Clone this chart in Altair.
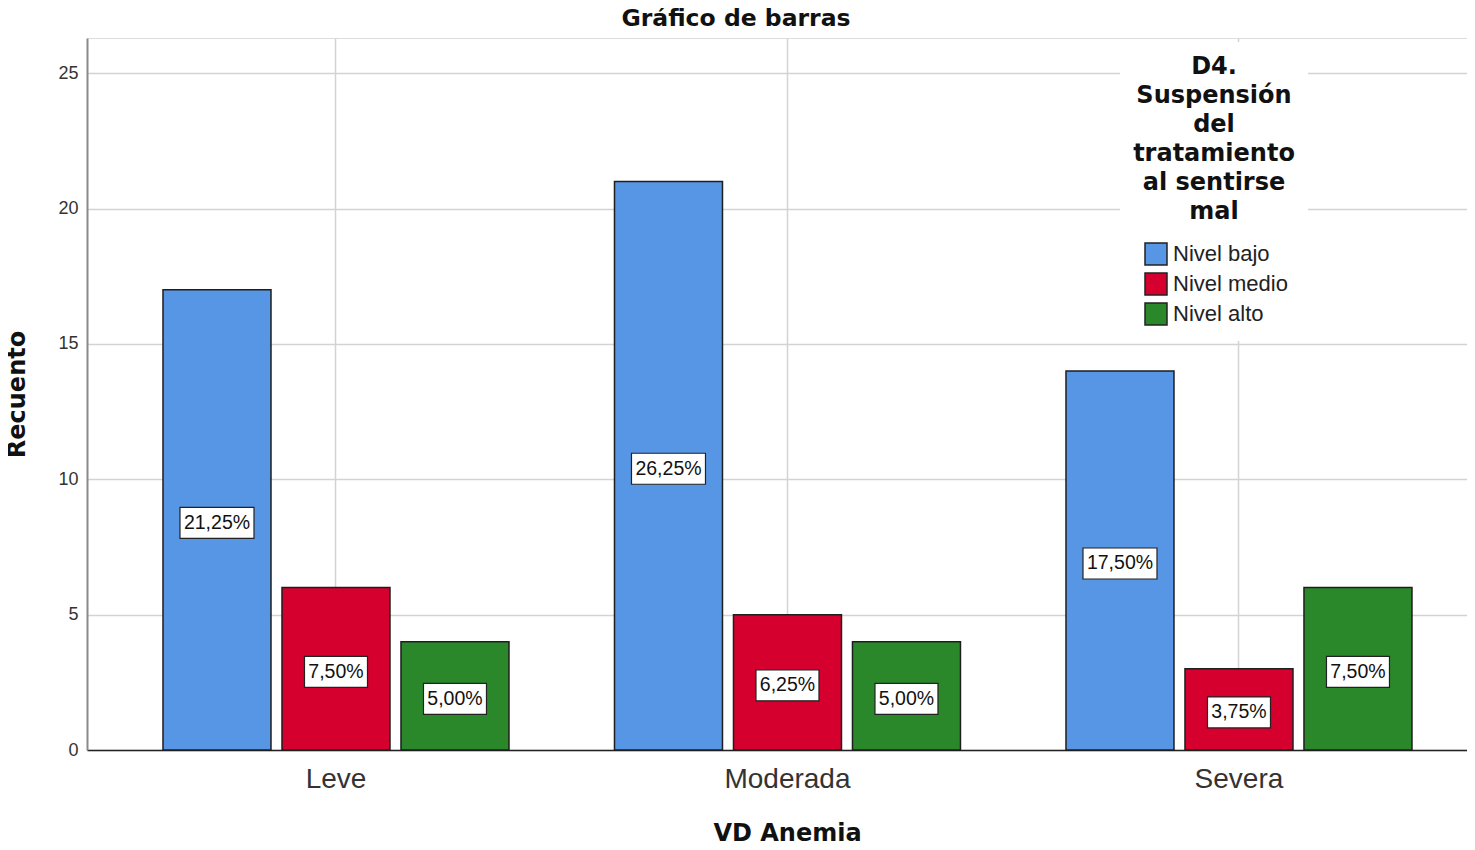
import altair as alt
import pandas as pd

categories = ["Leve", "Moderada", "Severa"]
levels = ["Nivel bajo", "Nivel medio", "Nivel alto"]
count_bajo = [17, 21, 14]
count_medio = [6, 5, 3]
count_alto = [4, 4, 6]
label_bajo = ["21,25%", "26,25%", "17,50%"]
label_medio = ["7,50%", "6,25%", "3,75%"]
label_alto = ["5,00%", "5,00%", "7,50%"]
colors = ["#5796E4", "#D5002E", "#2A882A"]
y_ticks = [0, 5, 10, 15, 20, 25]

rows = []
for lvl, counts, labels in zip(levels, [count_bajo, count_medio, count_alto],
                               [label_bajo, label_medio, label_alto]):
    for cat, c, lab in zip(categories, counts, labels):
        rows.append({"anemia": cat, "nivel": lvl, "count": c, "label": lab})
df = pd.DataFrame(rows)

x_enc = alt.X(
    "anemia:N", sort=categories,
    scale=alt.Scale(paddingInner=0.2337, paddingOuter=0.1451, align=0.58),
    axis=alt.Axis(
        title="VD Anemia", grid=True, bandPosition=0.5, ticks=False,
        gridColor="#d3d3d3", gridWidth=1.5,
        domainColor="#222222", domainWidth=1.5,
        labelFont="Liberation Sans", labelFontSize=28, labelColor="#333333",
        labelPadding=15, labelAngle=0,
        titleFont="DejaVu Sans", titleFontSize=24, titleFontWeight="bold",
        titleColor="#111111", titleX=700, titleY=83, titleBaseline="middle",
        titleAlign="center",
    ),
)
xoff_enc = alt.XOffset("nivel:N", sort=levels,
                       scale=alt.Scale(paddingInner=0.0924, paddingOuter=0))
y_scale = alt.Scale(domain=[0, 26.3], nice=False)

base = alt.Chart(df).encode(x=x_enc, xOffset=xoff_enc)

bars = base.mark_bar(stroke="#1e1e1e", strokeWidth=1.5).encode(
    y=alt.Y(
        "count:Q", scale=y_scale,
        axis=alt.Axis(
            title="Recuento", values=y_ticks, grid=True, ticks=False,
            gridColor="#d3d3d3", gridWidth=1.5,
            domainColor="#8a8a8a", domainWidth=2,
            labelFont="Liberation Sans", labelFontSize=18, labelColor="#333333",
            labelPadding=9,
            titleFont="DejaVu Sans", titleFontSize=24, titleFontWeight="bold",
            titleColor="#111111", titleX=-70, titleY=356, titleBaseline="middle",
            titleAlign="center", titleAngle=270,
        ),
    ),
    color=alt.Color(
        "nivel:N", sort=levels,
        scale=alt.Scale(domain=levels, range=colors),
        legend=alt.Legend(
            title=["D4.", "Suspensión", "del", "tratamiento", "al sentirse", "mal"],
            orient="none", legendX=1033, legendY=4,
            fillColor="white", padding=13,
            titleFont="DejaVu Sans", titleFontSize=24, titleFontWeight="bold",
            titleColor="#111111", titleLineHeight=29,
            titleAnchor="middle", titleAlign="center", titlePadding=18,
            labelFont="Liberation Sans", labelFontSize=22, labelColor="#222222",
            labelOffset=5,
            symbolType="square", symbolSize=484,
            symbolStrokeColor="#222222", symbolStrokeWidth=1.5,
            symbolOffset=4, rowPadding=2,
        ),
    ),
)

mid = base.transform_calculate(mid="datum.count / 2")

boxes = mid.mark_point(
    filled=True, fill="white", stroke="#222222", strokeWidth=1.2,
    size=4, opacity=1,
).encode(
    y=alt.Y("mid:Q", scale=y_scale),
    shape=alt.condition(
        "length(datum.label) > 5",
        alt.value("M-37,-12.5H37V18.5H-37Z"),
        alt.value("M-31.5,-12.5H31.5V18.5H-31.5Z"),
    ),
)

texts = mid.mark_text(
    font="Liberation Sans", fontSize=19.5, color="#111111",
    baseline="middle", align="center", dy=3,
).encode(
    y=alt.Y("mid:Q", scale=y_scale),
    text="label:N",
)

chart = alt.layer(bars, boxes, texts).properties(
    width=1380, height=712,
    title=alt.TitleParams(
        "Gráfico de barras", font="DejaVu Sans", fontSize=23.5,
        fontWeight="bold", color="#111111", anchor="middle", frame="bounds",
        offset=8,
    ),
    autosize=alt.AutoSizeParams(type="none"),
    padding={"left": 79, "top": 30, "right": 0, "bottom": 92},
).configure_view(stroke=None).configure(background="white")

chart.save("out.html", embed_options={"renderer": "svg", "actions": False})
